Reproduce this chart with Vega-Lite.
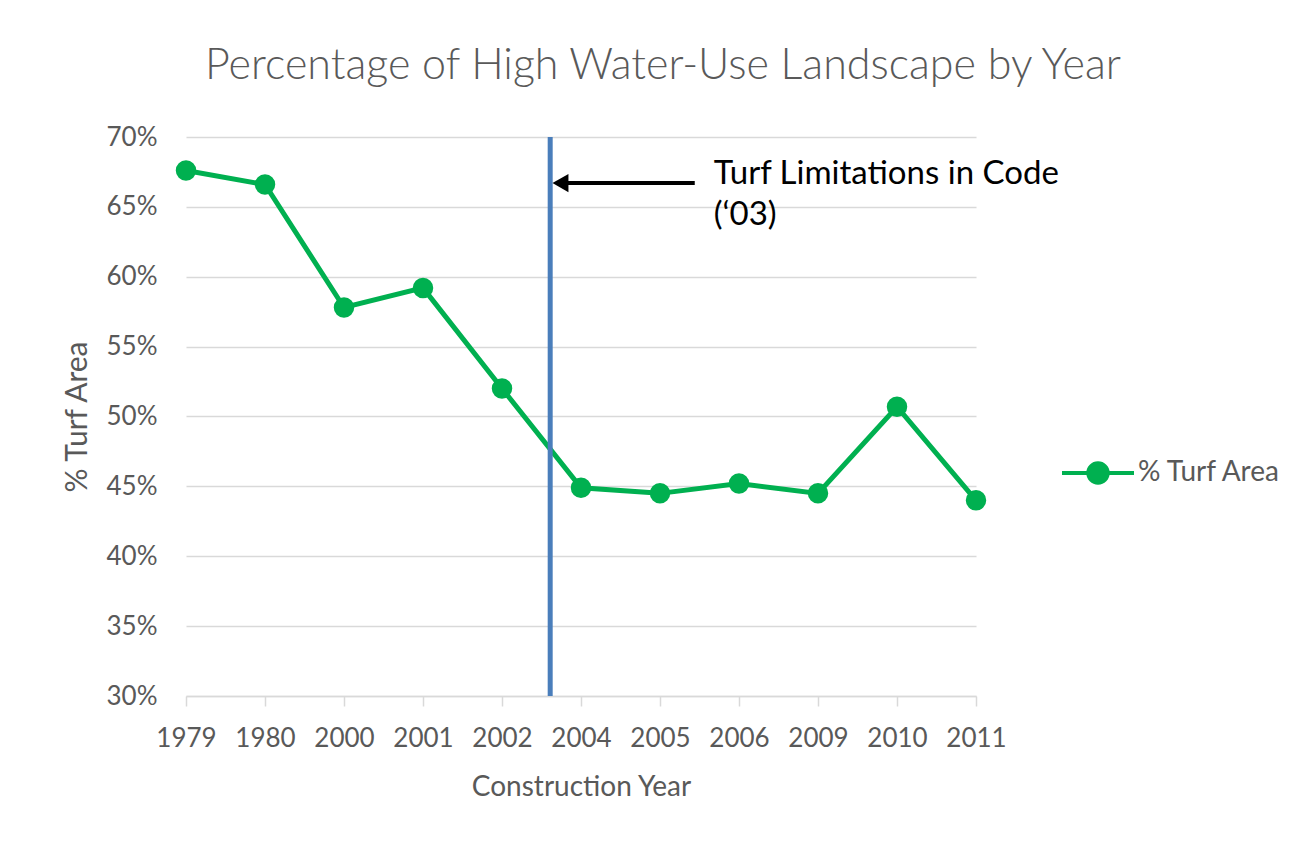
{
  "$schema": "https://vega.github.io/schema/vega-lite/v6.json",
  "width": 790,
  "height": 559,
  "autosize": {"type": "none"},
  "padding": {"left": 186, "top": 137, "right": 327, "bottom": 149},
  "background": "white",
  "title": {
    "text": "Percentage of High Water-Use Landscape by Year",
    "font": "Lato",
    "fontSize": 43,
    "fontWeight": 300,
    "color": "#595959",
    "anchor": "middle",
    "dx": 82,
    "offset": 36
  },
  "config": {"view": {"stroke": null}, "font": "Lato"},
  "layer": [
    {
      "data": {
        "values": [
          {"year": "1979", "pct": 0.676, "series": "% Turf Area"},
          {"year": "1980", "pct": 0.666, "series": "% Turf Area"},
          {"year": "2000", "pct": 0.578, "series": "% Turf Area"},
          {"year": "2001", "pct": 0.592, "series": "% Turf Area"},
          {"year": "2002", "pct": 0.520, "series": "% Turf Area"},
          {"year": "2004", "pct": 0.449, "series": "% Turf Area"},
          {"year": "2005", "pct": 0.445, "series": "% Turf Area"},
          {"year": "2006", "pct": 0.452, "series": "% Turf Area"},
          {"year": "2009", "pct": 0.445, "series": "% Turf Area"},
          {"year": "2010", "pct": 0.507, "series": "% Turf Area"},
          {"year": "2011", "pct": 0.440, "series": "% Turf Area"}
        ]
      },
      "mark": {
        "type": "line",
        "strokeWidth": 5,
        "point": {"filled": true, "size": 420, "color": "#00B050", "opacity": 1}
      },
      "encoding": {
        "x": {
          "field": "year",
          "type": "ordinal",
          "sort": null,
          "scale": {"type": "point", "padding": 0},
          "axis": {
            "title": "Construction Year",
            "titleFont": "Lato",
            "titleFontSize": 28,
            "titleFontWeight": "normal",
            "titleColor": "#595959",
            "titlePadding": 22,
            "labelFont": "Lato",
            "labelFontSize": 26,
            "labelColor": "#595959",
            "labelAngle": 0,
            "labelPadding": 19,
            "domainColor": "#D9D9D9",
            "domainWidth": 1.5,
            "tickColor": "#D9D9D9",
            "tickWidth": 1.5,
            "tickSize": 10,
            "grid": false
          }
        },
        "y": {
          "field": "pct",
          "type": "quantitative",
          "scale": {"domain": [0.3, 0.7], "nice": false},
          "axis": {
            "title": "% Turf Area",
            "titleFont": "Lato",
            "titleFontSize": 30,
            "titleFontWeight": "normal",
            "titleColor": "#595959",
            "titlePadding": 14,
            "values": [0.3, 0.35, 0.4, 0.45, 0.5, 0.55, 0.6, 0.65, 0.7],
            "format": ".0%",
            "labelFont": "Lato",
            "labelFontSize": 26,
            "labelColor": "#595959",
            "labelPadding": 29,
            "domain": false,
            "ticks": false,
            "grid": true,
            "gridColor": "#D9D9D9",
            "gridWidth": 1.5
          }
        },
        "color": {
          "field": "series",
          "type": "nominal",
          "scale": {"range": ["#00B050"]},
          "legend": {
            "title": null,
            "orient": "none",
            "legendX": 874,
            "legendY": 298,
            "symbolType": "M-1,0L1,0M0.27,0A0.27,0.27,0,1,1,-0.27,0A0.27,0.27,0,1,1,0.27,0Z",
            "symbolSize": 5184,
            "symbolStrokeWidth": 4,
            "symbolFillColor": "#00B050",
            "symbolStrokeColor": "#00B050",
            "labelFont": "Lato",
            "labelFontSize": 28,
            "labelColor": "#595959",
            "labelOffset": 2
          }
        }
      }
    },
    {
      "data": {"values": [{"pos": 4.61}]},
      "mark": {"type": "rule", "color": "#4A7EBB", "strokeWidth": 5},
      "encoding": {
        "x": {"field": "pos", "type": "quantitative", "scale": {"domain": [0, 10]}, "axis": null}
      }
    },
    {
      "data": {"values": [{"pos": 4.74, "v": 0.667}, {"pos": 6.44, "v": 0.667}]},
      "mark": {"type": "line", "color": "black", "strokeWidth": 4},
      "encoding": {
        "x": {"field": "pos", "type": "quantitative", "scale": {"domain": [0, 10]}, "axis": null},
        "y": {"field": "v", "type": "quantitative"}
      }
    },
    {
      "data": {"values": [{"pos": 4.74, "v": 0.667}]},
      "mark": {"type": "point", "shape": "triangle-left", "filled": true, "color": "black", "size": 340, "opacity": 1},
      "encoding": {
        "x": {"field": "pos", "type": "quantitative", "scale": {"domain": [0, 10]}, "axis": null},
        "y": {"field": "v", "type": "quantitative"}
      }
    },
    {
      "data": {"values": [{"pos": 6.68, "v": 0.6735, "label": ["Turf Limitations in Code", "(‘03)"]}]},
      "mark": {"type": "text", "align": "left", "baseline": "middle", "font": "Lato", "fontSize": 33, "lineHeight": 41, "color": "black"},
      "encoding": {
        "x": {"field": "pos", "type": "quantitative", "scale": {"domain": [0, 10]}, "axis": null},
        "y": {"field": "v", "type": "quantitative"},
        "text": {"field": "label"}
      }
    }
  ],
  "resolve": {"scale": {"x": "independent"}}
}
